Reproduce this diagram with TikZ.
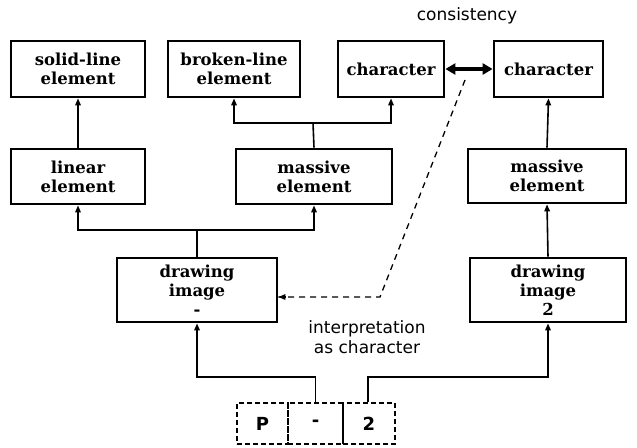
\documentclass[tikz,border=0pt]{standalone}
\usepackage{fontspec}
\newfontfamily\labfont{DejaVu Sans}
\newfontfamily\boxfont{DejaVu Serif}
\usetikzlibrary{arrows.meta,calc}
\begin{document}
\begin{tikzpicture}[x=1pt,y=-1pt,
  box/.style={draw,line width=2.8pt,rectangle,inner sep=0pt,align=center,
    font=\fontsize{16.5}{19}\selectfont\boxfont\bfseries},
  cell/.style={draw,dashed,dash pattern=on 5pt off 3pt,line width=1.4pt,rectangle,inner sep=0pt,
    minimum height=41pt,font=\fontsize{18}{20}\selectfont\labfont\bfseries},
  conn/.style={line width=1.6pt},
  arr/.style={conn,-{Triangle[length=7pt,width=5.5pt]}},
  lab/.style={align=center,font=\fontsize{17}{20}\selectfont\labfont}
]
\useasboundingbox (0,0) rectangle (637,447);
% top row
\node[box,minimum width=134pt,minimum height=56pt] (sle) at (78,69) {solid-line\\element};
\node[box,minimum width=132pt,minimum height=56pt] (ble) at (234,69) {broken-line\\element};
\node[box,minimum width=106pt,minimum height=56pt] (chL) at (391,69) {character};
\node[box,minimum width=109pt,minimum height=56pt] (chR) at (548.5,69) {character};
% middle row
\node[box,minimum width=134pt,minimum height=55pt] (lin) at (78,176.5) {linear\\element};
\node[box,minimum width=156pt,minimum height=55pt] (masL) at (314,176.5) {massive\\element};
\node[box,minimum width=158pt,minimum height=54pt] (masR) at (547,176) {massive\\element};
% drawing images
\node[box,minimum width=160pt,minimum height=64pt] (drL) at (197,290) {drawing\\image\\-};
\node[box,minimum width=156pt,minimum height=64pt] (drR) at (548,290) {drawing\\image\\2};
% bottom cells
\node[cell,minimum width=51pt] (cP) at (262.5,423.5) {P};
\node[cell,minimum width=55pt] (cM) at (315.5,423.5) {-};
\node[cell,minimum width=52pt] (c2) at (369,423.5) {2};
% labels
\node[lab] (cons) at (467,16) {consistency};
\node[lab] (interp) at (367,337) {interpretation\\as character};
% connectors
\draw[arr] (lin.north) -- (sle.south);
\coordinate (j1) at (313,123);
\draw[conn] (masL.north) -- (j1);
\draw[arr] (j1) -| (ble.south);
\draw[arr] (j1) -| (chL.south);
\draw[arr] (masR.north) -- (chR.south);
\coordinate (j2) at (197,230);
\draw[conn] (drL.north) -- (j2);
\draw[arr] (j2) -| (lin.south);
\draw[arr] (j2) -| (masL.south);
\draw[arr] (drR.north) -- (masR.south);
\coordinate (b1) at (315.5,377);
\draw[arr] (cM.north) -- (b1) -| (drL.south);
\coordinate (b2) at (368,377);
\draw[arr] (c2.north -| b2) -- (b2) -| (drR.south);
% consistency double arrow
\draw[line width=3.2pt,{Triangle[length=10pt,width=11pt]}-{Triangle[length=10pt,width=11pt]}] (chL.east) -- (chR.west);
% dashed interpretation line
\coordinate (ds) at (465,80);
\coordinate (dk) at (380,297);
\draw[line width=1.3pt,dashed,dash pattern=on 6pt off 5pt] (ds) -- (dk) -- (dk -| drL.east);
\draw[-{Triangle[length=7pt,width=5.5pt]},line width=1.4pt] ($(dk -| drL.east)+(8,0)$) -- (dk -| drL.east);
\end{tikzpicture}
\end{document}
